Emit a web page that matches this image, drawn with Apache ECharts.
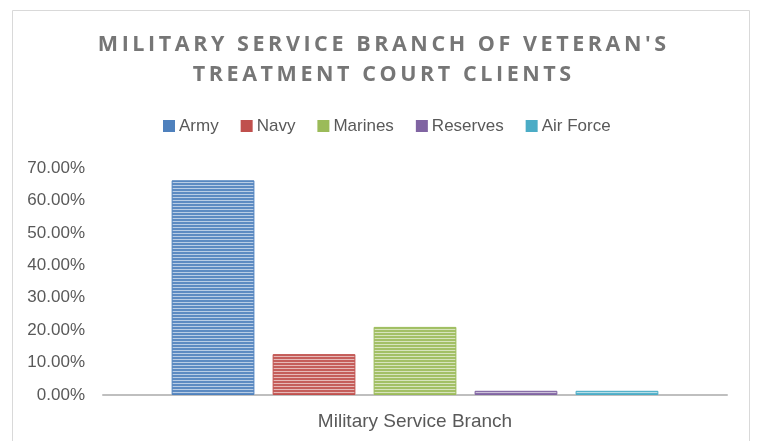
<!DOCTYPE html>
<html>
<head>
<meta charset="utf-8">
<script src="https://cdn.jsdelivr.net/npm/echarts@6/dist/echarts.min.js"></script>
<style>
  html, body { margin: 0; padding: 0; background: #ffffff; }
  #chart { width: 757px; height: 441px; }
</style>
</head>
<body>
<div id="chart"></div>
<script>
// Share of veteran's treatment court clients by military branch (percent)
const categories = ['Military Service Branch'];
const seriesNames = ['Army', 'Navy', 'Marines', 'Reserves', 'Air Force'];
const seriesValues = [66.2, 12.6, 21.0, 1.3, 1.3];
const yAxisMin = 0;
const yAxisMax = 70;
const yAxisStep = 10;

const palette = ['#4F81BD', '#C0504D', '#9BBB59', '#8064A2', '#4BACC6'];
const titleLines = ["MILITARY SERVICE BRANCH OF VETERAN'S", 'TREATMENT COURT CLIENTS'];

// Thin spaces between letters give the title its tracked-out look
function track(s) { return s.split('').join('\u2009'); }

function mix(hex, t) {
  const n = parseInt(hex.slice(1), 16);
  const r = (n >> 16) & 255, g = (n >> 8) & 255, b = n & 255;
  const m = c => Math.round(c + (255 - c) * t);
  return 'rgb(' + m(r) + ',' + m(g) + ',' + m(b) + ')';
}

// Narrow horizontal stripe fill
function stripes(hex) {
  const c = document.createElement('canvas');
  c.width = 4; c.height = 3;
  const ctx = c.getContext('2d');
  ctx.fillStyle = mix(hex, 0.08);
  ctx.fillRect(0, 0, 4, 2);
  ctx.fillStyle = mix(hex, 0.6);
  ctx.fillRect(0, 2, 4, 1);
  return { image: c, repeat: 'repeat' };
}

const labelFont = "'Liberation Sans', Arial, sans-serif";

const chart = echarts.init(document.getElementById('chart'), null, { renderer: 'canvas' });
chart.setOption({
  animation: false,
  backgroundColor: '#ffffff',
  graphic: [{
    type: 'rect',
    shape: { x: 12.5, y: 10.5, width: 737, height: 440 },
    style: { fill: 'none', stroke: '#d9d9d9', lineWidth: 1 },
    silent: true
  }],
  title: {
    text: titleLines.map(track).join('\n'),
    left: 377,
    textAlign: 'center',
    top: 25,
    textStyle: {
      fontFamily: "'Open Sans', sans-serif",
      fontWeight: 'bold',
      fontSize: 21.5,
      lineHeight: 30,
      color: '#767676'
    }
  },
  legend: {
    left: 158,
    top: 110,
    itemWidth: 10,
    itemHeight: 10,
    itemGap: 22,
    icon: 'rect',
    textStyle: { fontFamily: labelFont, fontSize: 17, color: '#595959', lineHeight: 22 },
    data: seriesNames.map((n, i) => ({ name: n, itemStyle: { color: palette[i] } }))
  },
  grid: { left: 103, right: 30, top: 168, bottom: 46, containLabel: false },
  xAxis: {
    type: 'category',
    data: categories,
    axisLine: { lineStyle: { color: '#bfbfbf', width: 2 } },
    axisTick: { show: false },
    axisLabel: { fontFamily: labelFont, fontSize: 19, color: '#595959', margin: 17 }
  },
  yAxis: {
    type: 'value',
    min: yAxisMin,
    max: yAxisMax,
    interval: yAxisStep,
    axisLine: { show: false },
    axisTick: { show: false },
    splitLine: { show: false },
    axisLabel: {
      fontFamily: labelFont,
      fontSize: 17,
      color: '#595959',
      margin: 18,
      formatter: v => v.toFixed(2) + '%'
    }
  },
  series: seriesNames.map((n, i) => ({
    name: n,
    type: 'bar',
    data: [seriesValues[i]],
    barGap: '22%',
    barCategoryGap: '22%',
    itemStyle: { color: stripes(palette[i]), borderColor: palette[i], borderWidth: 1 }
  }))
});
</script>
</body>
</html>
